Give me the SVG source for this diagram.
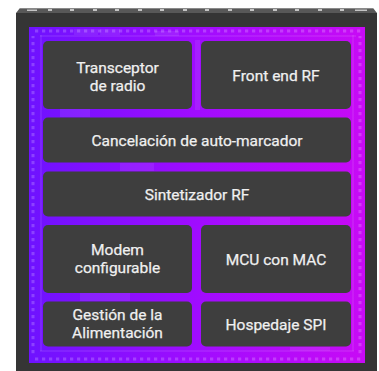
<svg xmlns="http://www.w3.org/2000/svg" width="379" height="371" viewBox="0 0 379 371">
<defs>
<linearGradient id="die" x1="0" y1="0" x2="1" y2="0">
<stop offset="0" stop-color="#6e12ff"/>
<stop offset="0.5" stop-color="#a00cff"/>
<stop offset="1" stop-color="#c80af5"/>
</linearGradient>
<pattern id="padsH" x="0" y="0" width="7" height="3" patternUnits="userSpaceOnUse">
<rect x="0" y="0" width="3.2" height="3" fill="#ffffff" fill-opacity="0.2"/>
</pattern>
<pattern id="padsV" x="0" y="0" width="3" height="7" patternUnits="userSpaceOnUse">
<rect x="0" y="0" width="3" height="3.2" fill="#ffffff" fill-opacity="0.2"/>
</pattern>
</defs>
<style>
.blk{fill:#3e3e3e;}
.lbl{font-family:Roboto,"Noto Sans","Liberation Sans",sans-serif;font-size:15.5px;font-weight:400;fill:#f0f0f0;text-anchor:middle;stroke:#f0f0f0;stroke-width:0.25;}
.pin{fill:#c4c4c4;}
.tex{fill:#ffffff;fill-opacity:0.08;}
</style>
<g id="chip">
<rect x="16" y="13" width="361" height="358" fill="#353535"/>
<polygon points="16,13 20,8 373,8 377,13" fill="#585858"/>
<rect x="20" y="8" width="353" height="1" fill="#8a8a8a"/>
<rect x="27" y="9.5" width="10" height="1.5" class="pin"/>
<rect x="48" y="9" width="4" height="2" class="pin"/>
<rect x="70" y="9" width="4" height="2" class="pin"/>
<rect x="93" y="9" width="4" height="2" class="pin"/>
<rect x="115" y="9" width="4" height="2" class="pin"/>
<rect x="138" y="9" width="4" height="2" class="pin"/>
<rect x="160" y="9" width="4" height="2" class="pin"/>
<rect x="183" y="9" width="4" height="2" class="pin"/>
<rect x="205" y="9" width="4" height="2" class="pin"/>
<rect x="228" y="9" width="4" height="2" class="pin"/>
<rect x="250" y="9" width="4" height="2" class="pin"/>
<rect x="273" y="9" width="4" height="2" class="pin"/>
<rect x="295" y="9" width="4" height="2" class="pin"/>
<rect x="318" y="9" width="4" height="2" class="pin"/>
<rect x="340" y="9" width="4" height="2" class="pin"/>
<rect x="355" y="9.5" width="12" height="1.5" class="pin"/>
</g>
<g id="die-area">
<rect x="29" y="27" width="336" height="336" fill="url(#die)"/>
<rect x="33" y="29.5" width="328" height="3" fill="url(#padsH)"/>
<rect x="33" y="357.5" width="328" height="3" fill="url(#padsH)"/>
<rect x="31.5" y="36" width="3" height="318" fill="url(#padsV)"/>
<rect x="358.5" y="36" width="3" height="318" fill="url(#padsV)"/>
<rect x="40" y="35" width="316" height="2" class="tex"/>
<rect x="40" y="35" width="2" height="316" class="tex"/>
<rect x="352" y="35" width="2" height="316" class="tex"/>
<rect x="40" y="350" width="314" height="2" class="tex"/>
<rect x="74" y="29" width="24" height="6" class="tex"/>
<rect x="100" y="29" width="20" height="6" class="tex"/>
<rect x="155" y="31" width="24" height="5" class="tex"/>
<rect x="195" y="40" width="5" height="70" class="tex"/>
<rect x="60" y="109" width="30" height="8" class="tex"/>
<rect x="120" y="163" width="34" height="8" class="tex"/>
<rect x="250" y="217" width="40" height="8" class="tex"/>
<rect x="80" y="293" width="50" height="8" class="tex"/>
<rect x="290" y="347" width="40" height="4" class="tex"/>
</g>
<g id="connectors"></g>
<g id="transceptor">
<rect class="blk" x="43" y="41" width="149" height="68" rx="5"/>
<text class="lbl" x="117.5" y="72.5">Transceptor</text>
<text class="lbl" x="117.5" y="90.5">de radio</text>
</g>
<g id="front-end">
<rect class="blk" x="201" y="41" width="150" height="68" rx="5"/>
<text class="lbl" x="276" y="80.5">Front end RF</text>
</g>
<g id="cancelacion">
<rect class="blk" x="43" y="117.5" width="308" height="45" rx="5"/>
<text class="lbl" x="197" y="145.5">Cancelación de auto-marcador</text>
</g>
<g id="sintetizador">
<rect class="blk" x="43" y="171.5" width="308" height="45" rx="5"/>
<text class="lbl" x="197" y="199.5">Sintetizador RF</text>
</g>
<g id="modem">
<rect class="blk" x="43" y="225" width="149" height="68" rx="5"/>
<text class="lbl" x="117.5" y="255">Modem</text>
<text class="lbl" x="117.5" y="273">configurable</text>
</g>
<g id="mcu">
<rect class="blk" x="201" y="225" width="150" height="68" rx="5"/>
<text class="lbl" x="276" y="264.5">MCU con MAC</text>
</g>
<g id="gestion">
<rect class="blk" x="43" y="301.5" width="149" height="45" rx="5"/>
<text class="lbl" x="117.5" y="320">Gestión de la</text>
<text class="lbl" x="117.5" y="338">Alimentación</text>
</g>
<g id="spi">
<rect class="blk" x="201" y="301.5" width="150" height="45" rx="5"/>
<text class="lbl" x="276" y="330">Hospedaje SPI</text>
</g>
</svg>
